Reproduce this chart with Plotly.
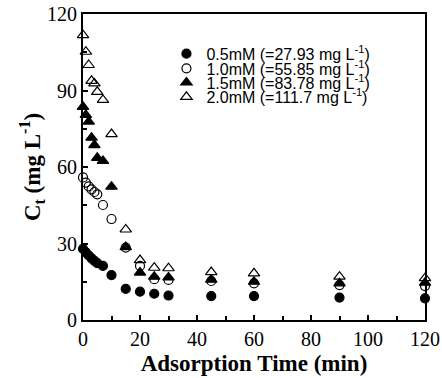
import plotly.graph_objects as go

time_min = [0, 1, 2, 3, 4, 5, 7, 10, 15, 20, 25, 30, 45, 60, 90, 120]
c_05 = [27.9, 26.5, 25.3, 24.2, 23.2, 22.3, 21.2, 17.6, 12.2, 11.1, 10.3, 9.6, 9.4, 9.4, 8.8, 8.5]
c_10 = [55.9, 53.9, 52.4, 51.2, 50.2, 49.3, 45.1, 39.6, 28.4, 21.2, 16.0, 15.7, 15.3, 14.4, 13.7, 13.3]
c_15 = [83.6, 80.4, 77.8, 71.5, 68.6, 63.6, 62.4, 52.3, 28.6, 18.6, 17.0, 16.7, 15.8, 15.0, 14.4, 14.6]
c_20 = [111.7, 105.2, 100.0, 93.8, 92.8, 89.5, 86.3, 72.9, 35.5, 23.5, 20.5, 20.3, 18.8, 18.3, 17.0, 16.4]

series_names = [
    "0.5mM (=27.93 mg L<sup>-1</sup>)",
    "1.0mM (=55.85 mg L<sup>-1</sup>)",
    "1.5mM (=83.78 mg L<sup>-1</sup>)",
    "2.0mM (=111.7 mg L<sup>-1</sup>)",
]
series_values = [c_05, c_10, c_15, c_20]
symbols = ["circle", "circle-open", "triangle-up", "triangle-up-open"]
marker_sizes = [9, 9, 10, 10]
legend_ids = ["legend", "legend2", "legend3", "legend4"]
legend_rows_y = [0.870, 0.822, 0.776, 0.729]

fig = go.Figure()
for name, vals, sym, ms, lg in zip(series_names, series_values, symbols, marker_sizes, legend_ids):
    fig.add_trace(go.Scatter(
        x=time_min, y=vals, mode="markers", name=name, cliponaxis=False,
        legend=lg,
        marker=dict(symbol=sym, size=ms, color="black",
                    line=dict(color="black", width=1.2)),
    ))

serif = "Liberation Serif"
legend_font = dict(family="Liberation Sans", size=16, color="black")
legends = {}
for lg, ly in zip(legend_ids, legend_rows_y):
    legends[lg] = dict(x=0.244, y=ly, xanchor="left", yanchor="middle",
                       font=legend_font, bgcolor="rgba(0,0,0,0)",
                       borderwidth=0, itemwidth=30)

fig.update_layout(
    width=442, height=378,
    margin=dict(l=83, r=17, t=14, b=58),
    paper_bgcolor="white", plot_bgcolor="white",
    showlegend=True,
    **legends,
)
fig.update_xaxes(
    range=[0, 120], tickmode="linear", tick0=0, dtick=20,
    showline=True, linecolor="black", linewidth=2, mirror=True,
    ticks="inside", ticklen=5, tickwidth=1.5, tickcolor="black",
    showgrid=False, zeroline=False, automargin=False,
    tickfont=dict(family=serif, size=20, color="black"),
    minor=dict(ticks="inside", ticklen=4, dtick=10),
    title=dict(text="<b>Adsorption Time (min)</b>",
               font=dict(family=serif, size=23, color="black"), standoff=6),
)
fig.update_yaxes(
    range=[0, 120], tickmode="linear", tick0=0, dtick=30,
    showline=True, linecolor="black", linewidth=2, mirror=True,
    ticks="inside", ticklen=5, tickwidth=1.5, tickcolor="black",
    showgrid=False, zeroline=False, automargin=False,
    tickfont=dict(family=serif, size=20, color="black"),
    minor=dict(ticks="inside", ticklen=4, dtick=15),
    title=dict(text="<b>C<sub>t</sub> (mg L<sup>-1</sup>)</b>",
               font=dict(family=serif, size=23, color="black"), standoff=0),
)

fig.write_html("out.html", config={"displayModeBar": False},
               post_script="document.body.style.margin='0';")
